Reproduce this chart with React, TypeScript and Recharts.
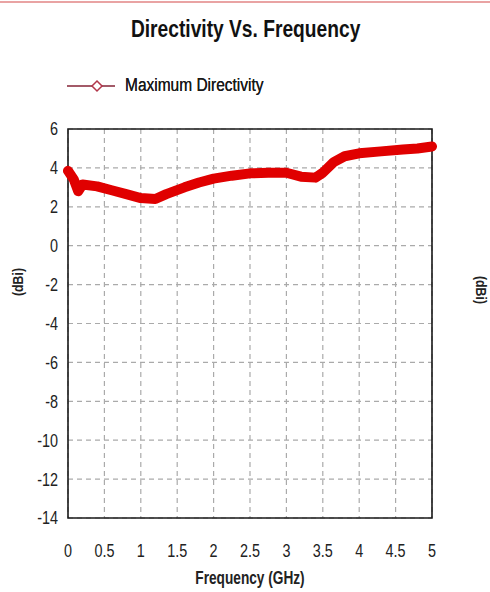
import React from 'react';
import {
  LineChart,
  Line,
  XAxis,
  YAxis,
  CartesianGrid,
  ReferenceArea,
  Label,
} from 'recharts';

const FONT = '"Liberation Sans", Arial, sans-serif';
const NARROW = 0.8; // horizontal squeeze to imitate Arial Narrow

// frequency (GHz) and maximum directivity (dBi)
const frequencies = [0, 0.08, 0.14, 0.2, 0.4, 0.6, 0.8, 1.0, 1.2, 1.35, 1.6, 1.8, 2.0, 2.25, 2.5, 2.75, 3.0, 3.2, 3.4, 3.5, 3.65, 3.8, 4.0, 4.3, 4.6, 4.8, 5.0];
const directivity = [3.85, 3.4, 2.8, 3.15, 3.05, 2.85, 2.65, 2.45, 2.4, 2.65, 3.0, 3.25, 3.45, 3.6, 3.72, 3.75, 3.75, 3.55, 3.5, 3.75, 4.3, 4.6, 4.75, 4.85, 4.95, 5.0, 5.1];

const xTicks = [0, 0.5, 1, 1.5, 2, 2.5, 3, 3.5, 4, 4.5, 5];
const yTicks = [-14, -12, -10, -8, -6, -4, -2, 0, 2, 4, 6];

const data = frequencies.map((f, i) => ({ freq: f, value: directivity[i] }));

const NarrowTick = ({ x, y, payload, textAnchor, dy }: any) => (
  <text
    x={0}
    y={0}
    transform={`translate(${x},${y}) scale(${NARROW},1)`}
    textAnchor={textAnchor}
    dy={dy}
    fontSize={18}
    fontFamily={FONT}
    fill="#222"
  >
    {payload.value}
  </text>
);

const AxisTitle = ({ viewBox, text, side }: any) => {
  const { x, y, width, height } = viewBox;
  let cx = x + width / 2;
  let cy = y + height + 30;
  let rot = 0;
  if (side === 'left') {
    cx = 18;
    cy = 282;
    rot = -90;
  } else if (side === 'right') {
    cx = 481;
    cy = 290;
    rot = 90;
  }
  return (
    <text
      x={0}
      y={0}
      transform={`translate(${cx},${cy}) rotate(${rot}) scale(${side === 'bottom' ? 0.76 : 0.82},1)`}
      textAnchor="middle"
      dy="0.35em"
      fontSize={side === 'bottom' ? 18 : 15}
      fontWeight="bold"
      fontFamily={FONT}
      fill="#222"
    >
      {text}
    </text>
  );
};

export default function App() {
  return (
    <div
      style={{
        position: 'absolute',
        left: 0,
        top: 0,
        width: 490,
        height: 592,
        background: '#fff',
        fontFamily: FONT,
        overflow: 'hidden',
      }}
    >
      <div style={{ position: 'absolute', left: 0, top: 1, width: 490, height: 2, background: '#e9a3a3' }} />
      <div
        style={{
          position: 'absolute',
          left: 0,
          width: 490,
          top: 15,
          textAlign: 'center',
          fontSize: 24,
          fontWeight: 'bold',
          color: '#111',
          transform: 'scaleX(0.8)',
          transformOrigin: '248px 0',
          whiteSpace: 'nowrap',
        }}
      >
        Directivity Vs. Frequency
      </div>
      <div style={{ position: 'absolute', left: 67, top: 75, display: 'flex', alignItems: 'center' }}>
        <svg width={50} height={20}>
          <line x1={0} y1={10} x2={48} y2={10} stroke="#a35a68" strokeWidth={2} />
          <polygon points="30,5 35,10 30,15 25,10" fill="#fff" stroke="#b2364a" strokeWidth={1.5} />
        </svg>
        <span
          style={{
            marginLeft: 8,
            fontSize: 18,
            color: '#1a1a1a',
            display: 'inline-block',
            transform: 'scaleX(0.86)',
            transformOrigin: '0 50%',
            whiteSpace: 'nowrap',
            textShadow: '0 0 0.4px #1a1a1a',
          }}
        >
          Maximum Directivity
        </span>
      </div>
      <LineChart
        width={490}
        height={592}
        data={data}
        margin={{ top: 129, left: 38, right: 28, bottom: 44 }}
        style={{ position: 'absolute', left: 0, top: 0 }}
      >
        <CartesianGrid yAxisId="left" stroke="#aaa" strokeDasharray="5 4" strokeWidth={1.2} />
        <XAxis
          dataKey="freq"
          type="number"
          domain={[0, 5]}
          ticks={xTicks}
          height={30}
          tickLine={false}
          axisLine={false}
          tickSize={0}
          tickMargin={26}
          tick={<NarrowTick dy="0.71em" />}
          interval={0}
        >
          <Label content={<AxisTitle text="Frequency (GHz)" side="bottom" />} />
        </XAxis>
        <YAxis
          yAxisId="left"
          domain={[-14, 6]}
          ticks={yTicks}
          width={30}
          tickLine={false}
          axisLine={false}
          tickSize={0}
          tickMargin={10}
          tick={<NarrowTick dy="0.355em" />}
          interval={0}
        >
          <Label content={<AxisTitle text="(dBi)" side="left" />} />
        </YAxis>
        <YAxis
          yAxisId="right"
          orientation="right"
          domain={[-14, 6]}
          ticks={yTicks}
          width={30}
          tickLine={false}
          axisLine={false}
          tickSize={0}
          tickMargin={10}
          tick={<NarrowTick dy="0.355em" />}
          interval={0}
        >
          <Label content={<AxisTitle text="(dBi)" side="right" />} />
        </YAxis>
        <ReferenceArea
          yAxisId="left"
          x1={0}
          x2={5}
          y1={-14}
          y2={6}
          fill="none"
          stroke="#1a1a1a"
          strokeWidth={1.6}
        />
        <Line
          yAxisId="left"
          dataKey="value"
          type="linear"
          stroke="#e00000"
          strokeWidth={10}
          strokeLinejoin="round"
          strokeLinecap="round"
          dot={false}
          isAnimationActive={false}
        />
      </LineChart>
    </div>
  );
}
